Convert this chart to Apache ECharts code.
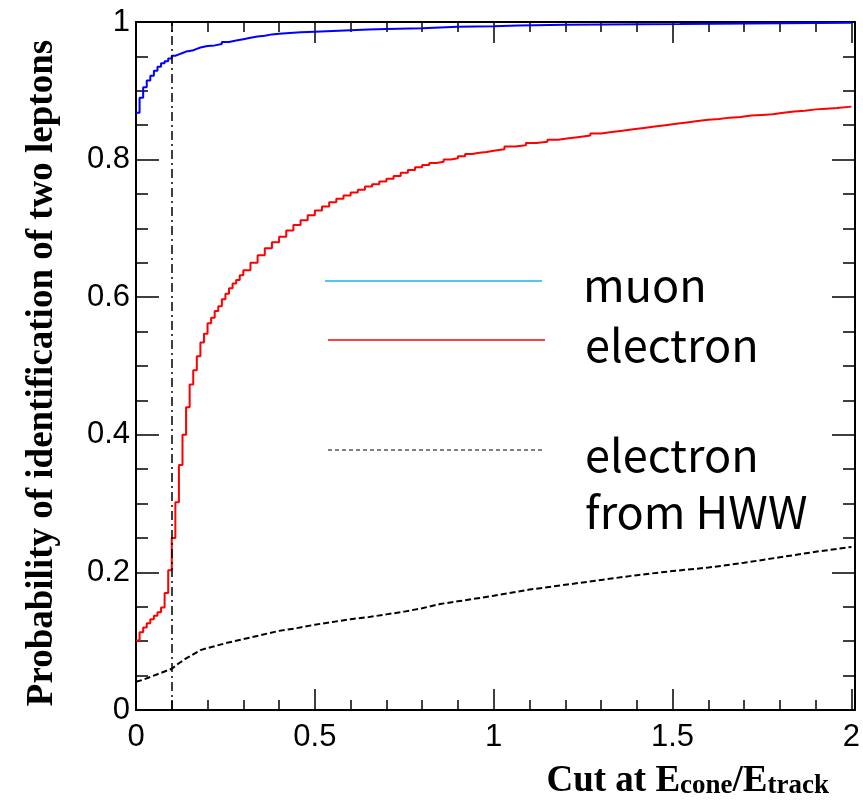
<!DOCTYPE html>
<html>
<head>
<meta charset="utf-8">
<script src="https://cdn.jsdelivr.net/npm/echarts@6/dist/echarts.min.js"></script>
<style>
html, body { margin: 0; padding: 0; background: #fff; }
#chart { width: 863px; height: 810px; }
</style>
</head>
<body>
<div id="chart"></div>
<script>
// cut value on E_cone/E_track (x) and identification probability (y)
var cutValue = 0.1

var muonX = [0, 0.01, 0.02, 0.03, 0.04, 0.05, 0.06, 0.07, 0.08, 0.09, 0.10, 0.11, 0.12, 0.13, 0.14, 0.15, 0.16, 0.17, 0.18, 0.19,
  0.20, 0.22, 0.24, 0.26, 0.28, 0.30, 0.32, 0.34, 0.36, 0.38, 0.40, 0.43, 0.46, 0.50, 0.55, 0.60, 0.65, 0.70, 0.80, 0.90,
  1.00, 1.07, 1.20, 1.52, 2.00]
var muonY = [0.868, 0.890, 0.905, 0.915, 0.922, 0.929, 0.935, 0.940, 0.943, 0.947, 0.951, 0.953, 0.955, 0.957, 0.958, 0.959, 0.961, 0.963, 0.964, 0.965,
  0.966, 0.968, 0.971, 0.973, 0.975, 0.977, 0.979, 0.980, 0.982, 0.983, 0.984, 0.985, 0.986, 0.987, 0.988, 0.989, 0.990, 0.991, 0.993, 0.994,
  0.995, 0.996, 0.997, 0.999, 0.999]

var electronX = [0, 0.01, 0.02, 0.03, 0.04, 0.05, 0.06, 0.07, 0.08, 0.09, 0.10, 0.11, 0.12, 0.13, 0.14, 0.15, 0.16, 0.17, 0.18, 0.19,
  0.20, 0.21, 0.22, 0.23, 0.24, 0.25, 0.26, 0.27, 0.28, 0.29, 0.30, 0.32, 0.34, 0.36, 0.38, 0.40, 0.42, 0.44, 0.46, 0.48,
  0.50, 0.52, 0.54, 0.56, 0.58, 0.60, 0.62, 0.64, 0.66, 0.68, 0.70, 0.72, 0.74, 0.76, 0.78, 0.80, 0.82, 0.84, 0.86, 0.88,
  0.90, 0.92, 0.94, 0.96, 0.98, 1.00, 1.03, 1.06, 1.09, 1.12, 1.15, 1.18, 1.21, 1.24, 1.27, 1.30, 1.33, 1.36, 1.39, 1.42,
  1.45, 1.48, 1.51, 1.54, 1.57, 1.60, 1.63, 1.66, 1.69, 1.72, 1.75, 1.78, 1.81, 1.84, 1.87, 1.90, 1.93, 1.96, 2.00]
var electronY = [0.101, 0.113, 0.120, 0.126, 0.132, 0.137, 0.142, 0.149, 0.170, 0.203, 0.250, 0.302, 0.356, 0.400, 0.440, 0.473, 0.494, 0.514, 0.534, 0.547,
  0.562, 0.570, 0.580, 0.587, 0.597, 0.605, 0.613, 0.620, 0.625, 0.632, 0.639, 0.650, 0.661, 0.671, 0.680, 0.688, 0.697, 0.705, 0.712, 0.719,
  0.726, 0.732, 0.738, 0.743, 0.748, 0.752, 0.756, 0.761, 0.764, 0.768, 0.772, 0.776, 0.781, 0.785, 0.789, 0.792, 0.795, 0.797, 0.800, 0.802,
  0.805, 0.808, 0.810, 0.811, 0.813, 0.815, 0.819, 0.821, 0.824, 0.826, 0.829, 0.831, 0.833, 0.835, 0.838, 0.840, 0.842, 0.844, 0.846, 0.848,
  0.850, 0.852, 0.854, 0.856, 0.858, 0.859, 0.861, 0.862, 0.864, 0.865, 0.866, 0.868, 0.870, 0.871, 0.873, 0.874, 0.875, 0.877, 0.878]

var hwwX = [0, 0.02, 0.04, 0.06, 0.08, 0.10, 0.12, 0.14, 0.16, 0.18, 0.20, 0.25, 0.30, 0.35, 0.40, 0.45, 0.50, 0.55, 0.60, 0.65,
  0.70, 0.75, 0.80, 0.85, 0.90, 0.95, 1.00, 1.10, 1.20, 1.30, 1.40, 1.50, 1.60, 1.70, 1.80, 1.90, 2.00]
var hwwY = [0.041, 0.044, 0.048, 0.052, 0.056, 0.060, 0.068, 0.075, 0.081, 0.087, 0.090, 0.097, 0.103, 0.109, 0.115, 0.119, 0.124, 0.128, 0.132, 0.135,
  0.139, 0.143, 0.148, 0.154, 0.158, 0.162, 0.166, 0.175, 0.182, 0.189, 0.196, 0.202, 0.207, 0.214, 0.222, 0.230, 0.237]

var legendNames = ['muon', 'electron', 'electron', 'from HWW']

function pairs (xs, ys) {
  return xs.map(function (x, i) { return [x, ys[i]] })
}

var myChart = echarts.init(document.getElementById('chart'))

var tickLine = { color: '#000', width: 1.5 }
var labelFont = { color: '#000', fontSize: 31, fontFamily: 'Liberation Sans' }

function xAxisCfg (pos, showLabel) {
  return {
    type: 'value',
    position: pos,
    min: 0,
    max: 2.01,
    interval: 0.5,
    splitLine: { show: false },
    axisLine: { show: true, onZero: false, lineStyle: { color: '#000', width: 2 } },
    axisTick: { show: true, inside: true, length: 21, lineStyle: tickLine },
    minorTick: { show: true, splitNumber: 5, length: 10, lineStyle: tickLine },
    axisLabel: Object.assign({
      show: showLabel,
      margin: 12,
      showMaxLabel: false,
      formatter: function (v) {
        return Math.abs(v * 2 - Math.round(v * 2)) < 1e-6 ? String(v) : ''
      }
    }, labelFont)
  }
}

function yAxisCfg (pos, showLabel) {
  return {
    type: 'value',
    position: pos,
    min: 0,
    max: 1,
    interval: 0.2,
    splitLine: { show: false },
    axisLine: { show: true, onZero: false, lineStyle: { color: '#000', width: 2 } },
    axisTick: { show: true, inside: true, length: 23, lineStyle: tickLine },
    minorTick: { show: true, splitNumber: 4, length: 12, lineStyle: tickLine },
    axisLabel: Object.assign({ show: showLabel, margin: 6 }, labelFont)
  }
}

var option = {
  animation: false,
  backgroundColor: '#fff',
  grid: {
    left: 136,
    right: 8,
    top: 22,
    bottom: 100,
    containLabel: false,
    outerBoundsMode: 'none'
  },
  xAxis: [xAxisCfg('bottom', true), xAxisCfg('top', false)],
  yAxis: [yAxisCfg('left', true), yAxisCfg('right', false)],
  graphic: [
    // y-axis title
    {
      type: 'text',
      x: 42,
      y: 373,
      rotation: Math.PI / 2,
      style: {
        text: 'Probability of identification of two leptons',
        font: 'bold 37px "Liberation Serif"',
        fill: '#000',
        align: 'center',
        verticalAlign: 'middle'
      }
    },
    // x-axis title with subscripts
    {
      type: 'text',
      x: 829,
      y: 782,
      style: {
        text: '{b|Cut at E}{s|cone}{b|/E}{s|track}',
        align: 'right',
        verticalAlign: 'middle',
        fill: '#000',
        rich: {
          b: { font: 'bold 37px "Liberation Serif"', lineHeight: 36, verticalAlign: 'bottom', fill: '#000' },
          s: { font: 'bold 27px "Liberation Serif"', lineHeight: 10, verticalAlign: 'bottom', fill: '#000' }
        }
      }
    },
    // hand-drawn legend
    { type: 'line', shape: { x1: 325, y1: 281, x2: 542, y2: 281 }, style: { stroke: '#1ab2ee', lineWidth: 1.5 } },
    { type: 'line', shape: { x1: 328, y1: 340, x2: 545, y2: 340 }, style: { stroke: '#ff0000', lineWidth: 1.5 } },
    { type: 'line', shape: { x1: 328, y1: 450, x2: 545, y2: 450 }, style: { stroke: '#000', lineWidth: 1.2, lineDash: [4, 3] } },
    { type: 'text', x: 583, y: 285, style: { text: legendNames[0], font: '45px "Noto Sans CJK JP"', fill: '#000', verticalAlign: 'middle' } },
    { type: 'text', x: 585, y: 345, style: { text: legendNames[1], font: '45px "Noto Sans CJK JP"', fill: '#000', verticalAlign: 'middle' } },
    { type: 'text', x: 585, y: 455, style: { text: legendNames[2], font: '45px "Noto Sans CJK JP"', fill: '#000', verticalAlign: 'middle' } },
    { type: 'text', x: 585, y: 512, style: { text: legendNames[3], font: '45px "Noto Sans CJK JP"', fill: '#000', verticalAlign: 'middle' } }
  ],
  series: [
    {
      name: 'electron from HWW',
      type: 'line',
      symbol: 'none',
      data: pairs(hwwX, hwwY),
      lineStyle: { color: '#000', width: 2, type: [6, 3] },
      markLine: {
        symbol: ['none', 'none'],
        silent: true,
        label: { show: false },
        lineStyle: { color: '#000', width: 1.5, type: [9, 4, 2, 4] },
        data: [{ xAxis: cutValue }]
      }
    },
    {
      name: 'electron',
      type: 'line',
      step: 'end',
      symbol: 'none',
      data: pairs(electronX, electronY),
      lineStyle: { color: '#ff0000', width: 2 }
    },
    {
      name: 'muon',
      type: 'line',
      step: 'end',
      symbol: 'none',
      data: pairs(muonX, muonY),
      lineStyle: { color: '#0000ff', width: 2 }
    }
  ]
}
myChart.setOption(option)
</script>
</body>
</html>
